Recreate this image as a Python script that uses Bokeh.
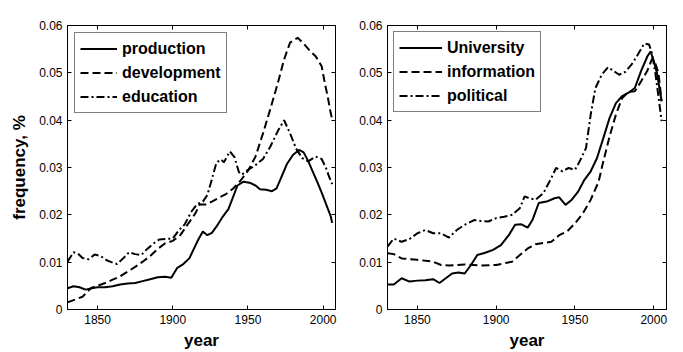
from bokeh.plotting import figure
from bokeh.layouts import row
from bokeh.models import LinearAxis, FixedTicker, CustomJSTickFormatter
from bokeh.embed import file_html
from bokeh.resources import INLINE

# ---- left panel data ----
prod_years = [1830, 1834, 1838, 1842, 1846, 1850, 1855, 1860, 1865, 1870, 1875, 1880, 1885, 1890, 1895, 1899,
              1903, 1907, 1911, 1914, 1917, 1920, 1923, 1926, 1929, 1933, 1937, 1940, 1943, 1947, 1951, 1955,
              1958, 1962, 1966, 1969, 1972, 1976, 1980, 1984, 1987, 1990, 1993, 1996, 1999, 2002, 2005, 2006]
prod_vals = [0.0045, 0.0049, 0.0047, 0.0042, 0.0045, 0.0047, 0.0047, 0.0049, 0.0053, 0.0055, 0.0056, 0.0060,
             0.0064, 0.0068, 0.0069, 0.0067, 0.0088, 0.0096, 0.0108, 0.0128, 0.0148, 0.0165, 0.0157, 0.0162,
             0.0175, 0.0195, 0.0212, 0.0237, 0.0262, 0.0270, 0.0268, 0.0262, 0.0254, 0.0253, 0.0250, 0.0256,
             0.0278, 0.0308, 0.0327, 0.0337, 0.0332, 0.0314, 0.0292, 0.0270, 0.0247, 0.0222, 0.0197, 0.0183]

dev_years = [1830, 1835, 1840, 1843, 1846, 1850, 1855, 1860, 1865, 1870, 1875, 1880, 1885, 1890, 1895, 1900,
             1905, 1910, 1915, 1918, 1922, 1926, 1930, 1935, 1940, 1945, 1950, 1955, 1960, 1965, 1970, 1974,
             1978, 1983, 1987, 1991, 1995, 1999, 2001, 2003, 2005, 2006]
dev_vals = [0.0015, 0.0021, 0.0027, 0.0037, 0.0046, 0.0050, 0.0056, 0.0063, 0.0070, 0.0080, 0.0090, 0.0101,
            0.0113, 0.0128, 0.0140, 0.0145, 0.0157, 0.0180, 0.0203, 0.0222, 0.0222, 0.0228, 0.0235, 0.0243,
            0.0255, 0.0272, 0.0293, 0.0323, 0.0372, 0.0425, 0.0480, 0.0528, 0.0564, 0.0574, 0.0562, 0.0547,
            0.0535, 0.0514, 0.0480, 0.0450, 0.0415, 0.0402]

edu_years = [1830, 1834, 1837, 1840, 1844, 1848, 1852, 1856, 1860, 1863, 1867, 1871, 1875, 1879, 1883, 1887,
             1891, 1896, 1900, 1904, 1908, 1912, 1916, 1920, 1923, 1926, 1929, 1932, 1934, 1938, 1941, 1944,
             1946, 1950, 1955, 1960, 1965, 1970, 1974, 1978, 1982, 1986, 1990, 1995, 1999, 2002, 2004, 2006]
edu_vals = [0.0101, 0.0121, 0.0118, 0.0109, 0.0106, 0.0116, 0.0113, 0.0104, 0.0099, 0.0096, 0.0108, 0.0121,
            0.0117, 0.0115, 0.0128, 0.0139, 0.0148, 0.0149, 0.0150, 0.0167, 0.0180, 0.0205, 0.0222, 0.0228,
            0.0242, 0.0275, 0.0310, 0.0317, 0.0311, 0.0334, 0.0322, 0.0290, 0.0285, 0.0295, 0.0305, 0.0318,
            0.0345, 0.0378, 0.0400, 0.0372, 0.0340, 0.0320, 0.0313, 0.0323, 0.0318, 0.0298, 0.0280, 0.0265]

# ---- right panel data ----
uni_years = [1831, 1835, 1840, 1845, 1850, 1855, 1860, 1864, 1868, 1872, 1876, 1880, 1884, 1888, 1893, 1898,
             1903, 1908, 1912, 1916, 1920, 1923, 1927, 1932, 1937, 1940, 1944, 1948, 1952, 1956, 1960, 1964,
             1968, 1972, 1976, 1980, 1984, 1988, 1992, 1996, 1998, 2000, 2002, 2004, 2005]
uni_vals = [0.0053, 0.0053, 0.0066, 0.0059, 0.0061, 0.0062, 0.0064, 0.0056, 0.0066, 0.0076, 0.0078, 0.0076,
            0.0094, 0.0115, 0.0120, 0.0126, 0.0136, 0.0157, 0.0179, 0.0180, 0.0173, 0.0189, 0.0225, 0.0228,
            0.0235, 0.0237, 0.0221, 0.0232, 0.0249, 0.0274, 0.0292, 0.0320, 0.0362, 0.0405, 0.0436, 0.0451,
            0.0458, 0.0468, 0.0504, 0.0535, 0.0545, 0.0525, 0.0500, 0.0460, 0.0440]

info_years = [1831, 1835, 1840, 1850, 1860, 1865, 1870, 1880, 1890, 1900, 1910, 1915, 1920, 1925, 1935, 1940,
              1945, 1950, 1955, 1960, 1965, 1968, 1972, 1976, 1980, 1984, 1988, 1992, 1996, 1999, 2001, 2003,
              2005]
info_vals = [0.0119, 0.0117, 0.0108, 0.0105, 0.0101, 0.0094, 0.0093, 0.0095, 0.0093, 0.0094, 0.0101, 0.0115,
             0.0129, 0.0138, 0.0143, 0.0157, 0.0165, 0.0182, 0.0203, 0.0232, 0.0270, 0.0313, 0.0366, 0.0412,
             0.0447, 0.0460, 0.0461, 0.0482, 0.0505, 0.0530, 0.0520, 0.0500, 0.0440]

pol_years = [1831, 1835, 1840, 1845, 1850, 1855, 1860, 1865, 1870, 1875, 1880, 1886, 1890, 1895, 1900, 1905,
             1910, 1915, 1918, 1921, 1925, 1930, 1935, 1938, 1942, 1946, 1950, 1953, 1957, 1960, 1963, 1967,
             1971, 1975, 1978, 1982, 1986, 1990, 1994, 1997, 1999, 2001, 2003, 2005]
pol_vals = [0.0133, 0.0150, 0.0143, 0.0149, 0.0161, 0.0168, 0.0161, 0.0161, 0.0152, 0.0168, 0.0179, 0.0189,
            0.0187, 0.0186, 0.0193, 0.0196, 0.0200, 0.0214, 0.0239, 0.0235, 0.0232, 0.0246, 0.0278, 0.0299,
            0.0292, 0.0299, 0.0295, 0.0313, 0.0341, 0.0412, 0.0468, 0.0496, 0.0512, 0.0503, 0.0496, 0.0502,
            0.0518, 0.0539, 0.0562, 0.0560, 0.0540, 0.0500, 0.0450, 0.0398]

x_ticks = [1850, 1900, 1950, 2000]
y_ticks = [0, 0.01, 0.02, 0.03, 0.04, 0.05, 0.06]

FONT = "Liberation Sans"
DASH = "8 4"
DASHDOT = "8 3 2 3"


def style_axis(ax, labels=True):
    ax.axis_line_color = "black"
    ax.major_tick_line_color = "black"
    ax.major_tick_in = 4
    ax.major_tick_out = 0
    ax.minor_tick_line_color = None
    ax.major_label_text_font = FONT
    ax.major_label_text_font_size = "12px"
    ax.major_label_text_color = "black" if labels else None
    ax.major_label_standoff = 5 if labels else 0
    if not labels:
        ax.formatter = CustomJSTickFormatter(code="return '';")
    ax.axis_label_text_font = FONT
    ax.axis_label_text_font_style = "bold"
    ax.axis_label_text_font_size = "17px"
    ax.axis_label_text_color = "black"


def make_panel(x_range, width, border_left, border_right, series, ylabel, glyph_w, margin):
    p = figure(width=width, height=352, x_range=x_range, y_range=(0, 0.06),
               output_backend="svg", toolbar_location=None,
               min_border_left=border_left, min_border_right=border_right,
               min_border_top=25, min_border_bottom=43)
    p.xgrid.visible = False
    p.ygrid.visible = False
    p.outline_line_color = "black"
    p.background_fill_color = "white"
    p.border_fill_color = "white"

    p.xaxis.ticker = FixedTicker(ticks=x_ticks)
    p.yaxis.ticker = FixedTicker(ticks=y_ticks)
    p.yaxis.formatter = CustomJSTickFormatter(code="return tick == 0 ? '0' : tick.toFixed(2);")
    p.xaxis.axis_label = "year"
    p.xaxis.axis_label_standoff = 4
    if ylabel:
        p.yaxis.axis_label = ylabel
        p.yaxis.axis_label_standoff = 7
    style_axis(p.xaxis[0])
    style_axis(p.yaxis[0])

    top = LinearAxis(ticker=FixedTicker(ticks=x_ticks))
    style_axis(top, labels=False)
    p.add_layout(top, "above")
    right = LinearAxis(ticker=FixedTicker(ticks=y_ticks))
    style_axis(right, labels=False)
    p.add_layout(right, "right")

    for (xs, ys, name, dash) in series:
        p.line(xs, ys, line_color="black", line_width=2, line_dash=dash, legend_label=name)

    lg = p.legend[0]
    lg.location = "top_left"
    lg.margin = margin
    lg.padding = 5
    lg.spacing = 3
    lg.glyph_width = glyph_w
    lg.glyph_height = 21
    lg.label_height = 21
    lg.label_standoff = 5
    lg.label_text_font = FONT
    lg.label_text_font_style = "bold"
    lg.label_text_font_size = "16px"
    lg.label_text_color = "black"
    lg.border_line_color = "black"
    lg.border_line_width = 1
    lg.background_fill_color = "white"
    lg.background_fill_alpha = 1.0
    return p


p1 = make_panel((1830, 2008.2), 341, 67, 6, [
    (prod_years, prod_vals, "production", "solid"),
    (dev_years, dev_vals, "development", DASH),
    (edu_years, edu_vals, "education", DASHDOT),
], "frequency, %", 37, 7)

p2 = make_panel((1831, 2008.1), 342, 46, 17, [
    (uni_years, uni_vals, "University", "solid"),
    (info_years, info_vals, "information", DASH),
    (pol_years, pol_vals, "political", DASHDOT),
], None, 43, 6)

layout = row(p1, p2)
open("out.html", "w").write(file_html(layout, INLINE))
